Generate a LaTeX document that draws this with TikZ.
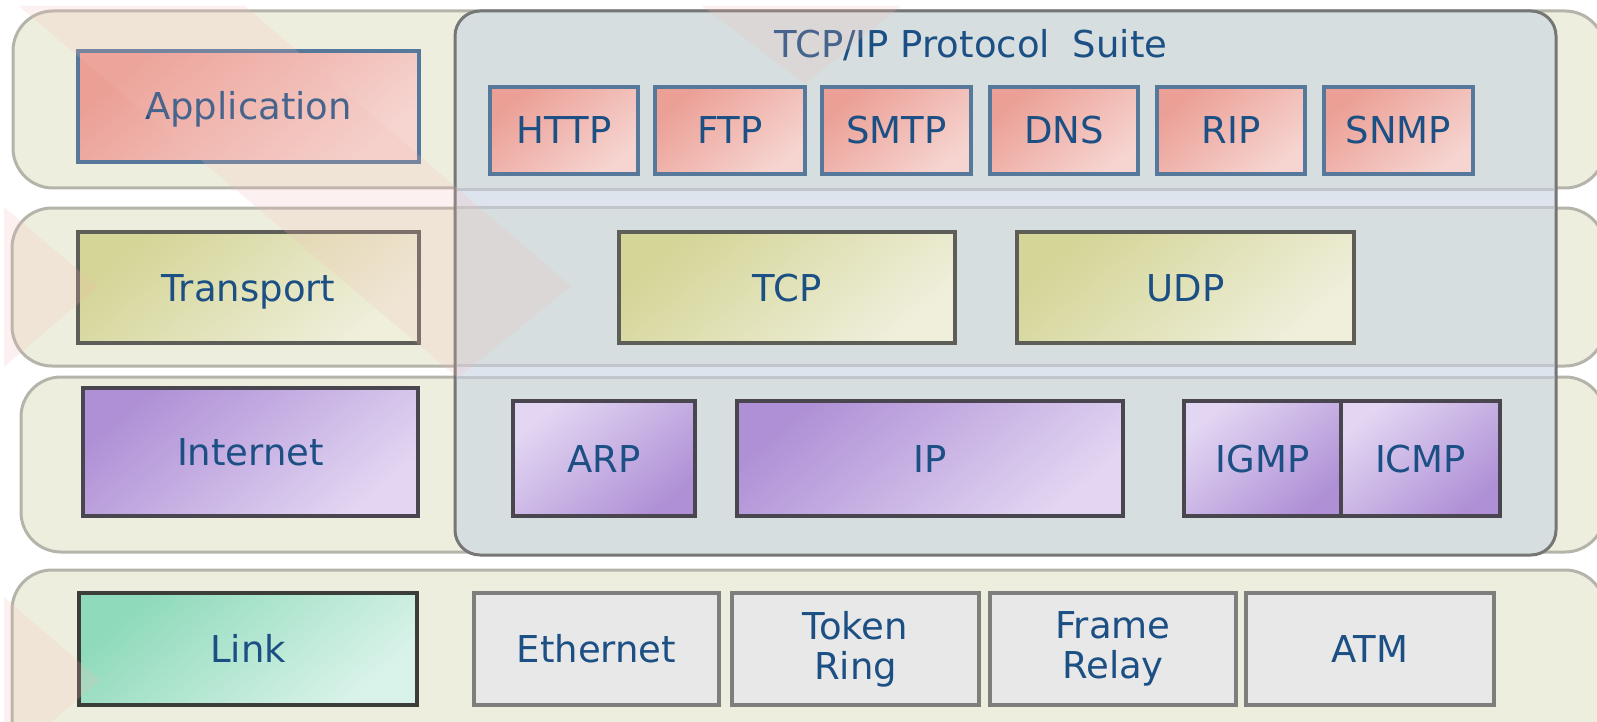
\documentclass[tikz,border=0pt]{standalone}
\usepackage{fontspec}
\setmainfont{DejaVu Sans}
\definecolor{bandfill}{HTML}{EEEEDF}
\definecolor{bandline}{HTML}{B4B4AA}
\definecolor{suitefill}{HTML}{D6DEE0}
\definecolor{suiteline}{HTML}{767676}
\definecolor{gapfill}{HTML}{DEE4EE}
\definecolor{gapline}{HTML}{C0C6CC}
\definecolor{txt}{HTML}{1C4F84}
\definecolor{pinkA}{HTML}{EB9F95}
\definecolor{pinkB}{HTML}{F6D4D0}
\definecolor{pinkline}{HTML}{56789A}
\definecolor{yelA}{HTML}{D4D596}
\definecolor{yelB}{HTML}{EFEFDC}
\definecolor{yelline}{HTML}{5E5E58}
\definecolor{purA}{HTML}{AF90D6}
\definecolor{purB}{HTML}{E2D6F2}
\definecolor{purline}{HTML}{4A4650}
\definecolor{grnA}{HTML}{8EDABA}
\definecolor{grnB}{HTML}{DAF3EA}
\definecolor{grnline}{HTML}{3C3E3A}
\definecolor{grayfill}{HTML}{E8E8E8}
\definecolor{grayline}{HTML}{7E7E7C}
\definecolor{wmark}{HTML}{F4BCB4}

\tikzset{
  band/.style={draw=bandline, fill=bandfill, line width=3pt, rounded corners=40pt},
  box/.style={draw, line width=3.5pt, inner sep=0pt, outer sep=0pt,
    text=txt, font=\fontsize{37}{40}\selectfont, align=center},
  oneline/.style={text height=27pt, text depth=0pt},
  pinkbox/.style={box, oneline, draw=pinkline, top color=pinkA, bottom color=pinkB, shading angle=40},
  yelbox/.style={box, oneline, draw=yelline, top color=yelA, bottom color=yelB, shading angle=40},
  purbox/.style={box, oneline, draw=purline, top color=purA, bottom color=purB, shading angle=40},
  purrev/.style={box, oneline, draw=purline, top color=purB, bottom color=purA, shading angle=40},
  grnbox/.style={box, oneline, draw=grnline, top color=grnA, bottom color=grnB, shading angle=40},
  graybox/.style={box, draw=grayline, fill=grayfill},
  titletext/.style={oneline, text=txt, font=\fontsize{37}{40}\selectfont, inner sep=0pt}
}

% \layerbox{name}{x1}{y1}{x2}{y2}{style}{text}
\newcommand\layerbox[7]{%
  \node[#6, minimum width={(#4-#2)*1pt}, minimum height={(#5-#3)*1pt}]
    (#1) at ({(#2+#4)/2},{(#3+#5)/2}) {#7};}

\begin{document}
\begin{tikzpicture}[x=1pt,y=-1pt]
\useasboundingbox (0,0) rectangle (1597,722);
\clip (0,0) rectangle (1597,722);
\fill[white] (0,0) rectangle (1597,722);

% layer bands
\draw[band] (13,11) rectangle (1605,188);
\draw[band] (12,208) rectangle (1605,366);
\draw[band] (21,377) rectangle (1605,552);
\draw[band] (12,570) rectangle (1605,765);

% protocol suite panel
\fill[suitefill, rounded corners=25pt] (455,11) rectangle (1556,555);
\fill[gapfill] (457,188) rectangle (1554,208);
\fill[gapfill] (457,366) rectangle (1554,377);
\draw[gapline, line width=3pt] (457,189.5) -- (1554,189.5);
\draw[gapline, line width=3pt] (457,207.5) -- (1554,207.5);
\draw[gapline, line width=3pt] (457,365) -- (1554,365);
\draw[gapline, line width=3pt] (457,377.5) -- (1554,377.5);
\draw[suiteline, line width=3pt, rounded corners=25pt] (455,11) rectangle (1556,555);
\node[titletext] (title) at (971,44) {TCP/IP Protocol\hspace{0.3em} Suite};

% layer names
\layerbox{app}{78}{51}{419}{162}{pinkbox}{Application}
\layerbox{trn}{78}{232}{419}{343}{yelbox}{Transport}
\layerbox{inet}{83}{388}{418}{516}{purbox}{Internet}
\layerbox{link}{79}{593}{417}{705}{grnbox}{Link}

% application protocols
\layerbox{http}{490}{87}{638}{174}{pinkbox}{HTTP}
\layerbox{ftp}{655}{87}{805}{174}{pinkbox}{FTP}
\layerbox{smtp}{822}{87}{971}{174}{pinkbox}{SMTP}
\layerbox{dns}{990}{87}{1138}{174}{pinkbox}{DNS}
\layerbox{rip}{1157}{87}{1305}{174}{pinkbox}{RIP}
\layerbox{snmp}{1324}{87}{1473}{174}{pinkbox}{SNMP}

% transport protocols
\layerbox{tcp}{619}{232}{955}{343}{yelbox}{TCP}
\layerbox{udp}{1017}{232}{1354}{343}{yelbox}{UDP}

% internet protocols
\layerbox{arp}{513}{401}{695}{516}{purrev}{ARP}
\layerbox{ip}{737}{401}{1123}{516}{purbox}{IP}
\layerbox{igmp}{1184}{401}{1341}{516}{purrev}{IGMP}
\layerbox{icmp}{1341}{401}{1500}{516}{purrev}{ICMP}

% link technologies
\layerbox{eth}{474}{593}{719}{705}{graybox, oneline}{Ethernet}
\layerbox{tok}{732}{593}{979}{705}{graybox}{Token\\Ring}
\layerbox{frm}{990}{593}{1236}{705}{graybox}{Frame\\Relay}
\layerbox{atm}{1246}{593}{1494}{705}{graybox, oneline}{ATM}

% faint arrow-shaped tint over the left side
\fill[wmark, opacity=0.2] (19,6) -- (245,6) -- (571,286) -- (458,378) -- cycle;
\fill[wmark, opacity=0.2] (4,207) -- (98,287) -- (4,367) -- cycle;
\fill[wmark, opacity=0.2] (4,597) -- (100,680) -- (4,763) -- cycle;
\fill[wmark, opacity=0.2] (702,6) -- (901,6) -- (805,84) -- cycle;
\end{tikzpicture}
\end{document}
